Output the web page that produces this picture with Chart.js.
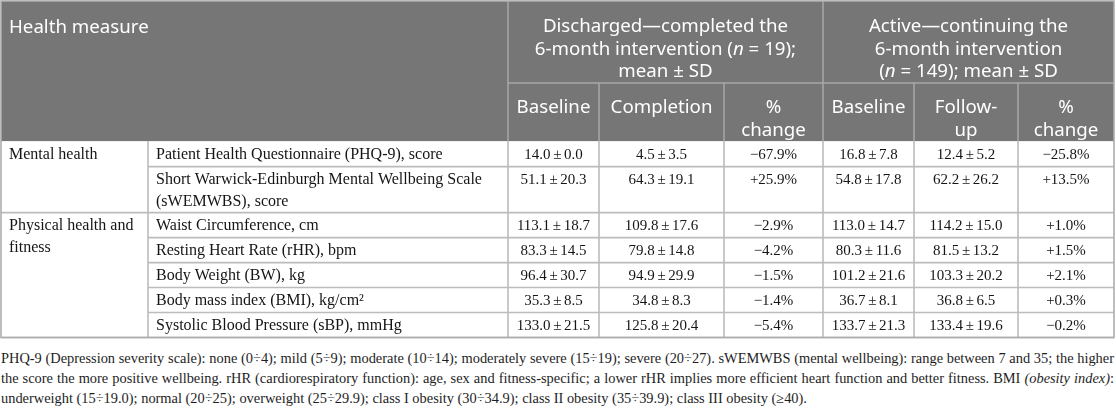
<!DOCTYPE html>
<html>
<head>
<meta charset="utf-8">
<script src="https://cdn.jsdelivr.net/npm/chart.js@4.4.1/dist/chart.umd.min.js"></script>
<style>
html,body{margin:0;padding:0;background:#fff;}
#wrap{position:relative;width:1116px;height:408px;overflow:hidden;}
#c{position:absolute;left:0;top:0;}
#note{position:absolute;left:1px;top:347.5px;width:1113px;font-family:"Liberation Serif",serif;font-size:14.4px;line-height:20.2px;color:#1e1e1e;}
#note div{white-space:nowrap;text-align:justify;text-align-last:justify;}
#note div.last{text-align-last:left;}
</style>
</head>
<body>
<div id="wrap">
<canvas id="c" width="1116" height="340"></canvas>
<div id="note">
<div>PHQ-9 (Depression severity scale): none (0÷4); mild (5÷9); moderate (10÷14); moderately severe (15÷19); severe (20÷27). sWEMWBS (mental wellbeing): range between 7 and 35; the higher</div>
<div>the score the more positive wellbeing. rHR (cardiorespiratory function): age, sex and fitness-specific; a lower rHR implies more efficient heart function and better fitness. BMI <i>(obesity index)</i>:</div>
<div class="last">underweight (15÷19.0); normal (20÷25); overweight (25÷29.9); class I obesity (30÷34.9); class II obesity (35÷39.9); class III obesity (≥40).</div>
</div>
</div>
<script>
// ---------- DATA ----------
const headerTitle = "Health measure";
const cohortHeaders = [
  ["Discharged—completed the", "6-month intervention (*n* = 19);", "mean ± SD"],
  ["Active—continuing the", "6-month intervention", "(*n* = 149); mean ± SD"]
];
const subHeaders = [["Baseline"], ["Completion"], ["%", "change"], ["Baseline"], ["Follow-", "up"], ["%", "change"]];
const categories = ["Mental health", "Physical health and fitness"];
const measures = [
  "Patient Health Questionnaire (PHQ-9), score",
  "Short Warwick-Edinburgh Mental Wellbeing Scale (sWEMWBS), score",
  "Waist Circumference, cm",
  "Resting Heart Rate (rHR), bpm",
  "Body Weight (BW), kg",
  "Body mass index (BMI), kg/cm²",
  "Systolic Blood Pressure (sBP), mmHg"
];
const measureCategory = [0, 0, 1, 1, 1, 1, 1];
const dischargedBaselineMean = [14.0, 51.1, 113.1, 83.3, 96.4, 35.3, 133.0];
const dischargedBaselineSD   = [0.0, 20.3, 18.7, 14.5, 30.7, 8.5, 21.5];
const dischargedCompletionMean = [4.5, 64.3, 109.8, 79.8, 94.9, 34.8, 125.8];
const dischargedCompletionSD   = [3.5, 19.1, 17.6, 14.8, 29.9, 8.3, 20.4];
const dischargedChange = [-67.9, 25.9, -2.9, -4.2, -1.5, -1.4, -5.4];
const activeBaselineMean = [16.8, 54.8, 113.0, 80.3, 101.2, 36.7, 133.7];
const activeBaselineSD   = [7.8, 17.8, 14.7, 11.6, 21.6, 8.1, 21.3];
const activeFollowupMean = [12.4, 62.2, 114.2, 81.5, 103.3, 36.8, 133.4];
const activeFollowupSD   = [5.2, 26.2, 15.0, 13.2, 20.2, 6.5, 19.6];
const activeChange = [-25.8, 13.5, 1.0, 1.5, 2.1, 0.3, -0.2];

// ---------- LAYOUT (sizes in scale units) ----------
const colWidths = [147, 360, 91, 125, 99, 91, 104, 96];
const headerRowHeights = [82, 58];
const bodyRowHeights = [25.5, 46, 24.95, 24.95, 24.95, 24.95, 24.95];
const style = {
  headerBg: "#767676", headerLine: "#a8a8a8", headerText: "#ffffff",
  bodyLine: "#bcbcbc", bodyText: "#151515", border: "#adadad",
  headerFont: '"Noto Sans", sans-serif', headerSize: 18.7,
  bodyFont: '"Liberation Serif", serif', bodySize: 16, valueSize: 15,
  pad: 8, lineGap: 22.5, bodyLineGap: 22
};

// ---------- helpers ----------
const cumsum = a => a.reduce((acc, v) => { acc.push(acc[acc.length - 1] + v); return acc; }, [0]);
const colEdges = cumsum(colWidths);
const rowEdges = cumsum(headerRowHeights.concat(bodyRowHeights));
const totalW = colEdges[colEdges.length - 1];
const totalH = rowEdges[rowEdges.length - 1];
const fmtMS = (m, s) => m.toFixed(1) + " ± " + s.toFixed(1);
const fmtPct = v => (v < 0 ? "−" : "+") + Math.abs(v).toFixed(1) + "%";
const valueCols = [
  dischargedBaselineMean.map((m, i) => fmtMS(m, dischargedBaselineSD[i])),
  dischargedCompletionMean.map((m, i) => fmtMS(m, dischargedCompletionSD[i])),
  dischargedChange.map(fmtPct),
  activeBaselineMean.map((m, i) => fmtMS(m, activeBaselineSD[i])),
  activeFollowupMean.map((m, i) => fmtMS(m, activeFollowupSD[i])),
  activeChange.map(fmtPct)
];

function parseRich(s) {
  return s.split("*").map((t, i) => ({ t, it: i % 2 === 1 })).filter(p => p.t.length);
}
function drawRich(ctx, s, x, y, align, size, family) {
  const parts = parseRich(s);
  const fontOf = p => (p.it ? "italic " : "") + size + "px " + family;
  let w = 0;
  parts.forEach(p => { ctx.font = fontOf(p); p.w = ctx.measureText(p.t).width; w += p.w; });
  let cx = align === "center" ? x - w / 2 : x;
  ctx.textAlign = "left";
  parts.forEach(p => { ctx.font = fontOf(p); ctx.fillText(p.t, cx, y); cx += p.w; });
}
function wrap(ctx, text, maxW) {
  const words = text.split(" ");
  const lines = [];
  let cur = "";
  words.forEach(w => {
    const t = cur ? cur + " " + w : w;
    if (ctx.measureText(t).width > maxW && cur) { lines.push(cur); cur = w; } else cur = t;
  });
  if (cur) lines.push(cur);
  return lines;
}

const tablePlugin = {
  id: "healthTable",
  afterDraw(chart) {
    const { ctx, scales: { x, y } } = chart;
    const X = v => x.getPixelForValue(v);
    const Y = v => y.getPixelForValue(v);
    const hdrBottom = rowEdges[2];
    ctx.save();
    ctx.fillStyle = style.headerBg;
    ctx.fillRect(X(0), Y(0), X(totalW) - X(0), Y(hdrBottom) - Y(0));

    const line = (x1, y1, x2, y2, c, w) => {
      ctx.strokeStyle = c; ctx.lineWidth = w;
      ctx.beginPath(); ctx.moveTo(x1, y1); ctx.lineTo(x2, y2); ctx.stroke();
    };
    line(X(colEdges[2]), Y(0), X(colEdges[2]), Y(hdrBottom), style.headerLine, 1.5);
    line(X(colEdges[5]), Y(0), X(colEdges[5]), Y(hdrBottom), style.headerLine, 1.5);
    [3, 4, 6, 7].forEach(c => line(X(colEdges[c]), Y(rowEdges[1]), X(colEdges[c]), Y(hdrBottom), style.headerLine, 1.5));
    line(X(colEdges[2]), Y(rowEdges[1]), X(totalW), Y(rowEdges[1]), style.headerLine, 1.5);

    for (let r = 0; r < measures.length; r++) {
      const yy = Y(rowEdges[r + 3]);
      const catBoundary = r === measures.length - 1 || measureCategory[r] !== measureCategory[r + 1];
      line(X(catBoundary ? 0 : colEdges[1]), yy, X(totalW), yy, style.bodyLine, 1.6);
    }
    for (let c = 1; c < colEdges.length - 1; c++) {
      line(X(colEdges[c]), Y(hdrBottom), X(colEdges[c]), Y(totalH), style.bodyLine, 1.6);
    }
    ctx.strokeStyle = style.border; ctx.lineWidth = 1.6;
    ctx.strokeRect(X(0), Y(0), X(totalW) - X(0), Y(totalH) - Y(0));

    ctx.fillStyle = style.headerText;
    ctx.textBaseline = "alphabetic";
    drawRich(ctx, headerTitle, X(0) + style.pad, Y(0) + 32, "left", style.headerSize, style.headerFont);
    cohortHeaders.forEach((lines, g) => {
      const c0 = g === 0 ? 2 : 5, c1 = g === 0 ? 5 : 8;
      const cx = (X(colEdges[c0]) + X(colEdges[c1])) / 2;
      lines.forEach((l, i) => drawRich(ctx, l, cx, Y(0) + 31 + i * style.lineGap, "center", style.headerSize, style.headerFont));
    });
    subHeaders.forEach((lines, k) => {
      const cx = (X(colEdges[k + 2]) + X(colEdges[k + 3])) / 2;
      lines.forEach((l, i) => drawRich(ctx, l, cx, Y(rowEdges[1]) + 30 + i * style.lineGap, "center", style.headerSize, style.headerFont));
    });

    ctx.fillStyle = style.bodyText;
    const bodyFont = style.bodySize + "px " + style.bodyFont;
    categories.forEach((cat, ci) => {
      const first = measureCategory.indexOf(ci);
      ctx.font = bodyFont; ctx.textAlign = "left";
      const lines = wrap(ctx, cat, colWidths[0] - 2 * style.pad);
      lines.forEach((l, i) => ctx.fillText(l, X(colEdges[0]) + style.pad, Y(rowEdges[first + 2]) + 17.5 + i * style.bodyLineGap));
    });
    measures.forEach((m, r) => {
      ctx.font = bodyFont; ctx.textAlign = "left";
      const lines = wrap(ctx, m, colWidths[1] - 2 * style.pad);
      lines.forEach((l, i) => ctx.fillText(l, X(colEdges[1]) + style.pad, Y(rowEdges[r + 2]) + 17.5 + i * style.bodyLineGap));
    });
    ctx.font = style.valueSize + "px " + style.bodyFont;
    ctx.textAlign = "center";
    try { ctx.wordSpacing = "-1px"; } catch (e) {}
    valueCols.forEach((col, k) => {
      const cx = (X(colEdges[k + 2]) + X(colEdges[k + 3])) / 2;
      col.forEach((v, r) => ctx.fillText(v, cx, Y(rowEdges[r + 2]) + 17.5));
    });
    ctx.restore();
  }
};

function build() {
  new Chart(document.getElementById("c"), {
    type: "scatter",
    data: { datasets: [] },
    options: {
      responsive: false,
      animation: false,
      events: [],
      layout: { padding: { left: 1, right: 2, top: 1, bottom: 2.5 } },
      scales: {
        x: { type: "linear", min: 0, max: totalW, display: false },
        y: { type: "linear", min: 0, max: totalH, reverse: true, display: false }
      },
      plugins: { legend: { display: false }, tooltip: { enabled: false }, title: { display: false } }
    },
    plugins: [tablePlugin]
  });
}
Promise.all([
  document.fonts.load('18.7px "Noto Sans"'),
  document.fonts.load('16px "Liberation Serif"'),
  document.fonts.load('italic 16px "Liberation Serif"'),
  document.fonts.load('italic 18.7px "Noto Sans"')
]).then(build, build);
</script>
</body>
</html>
